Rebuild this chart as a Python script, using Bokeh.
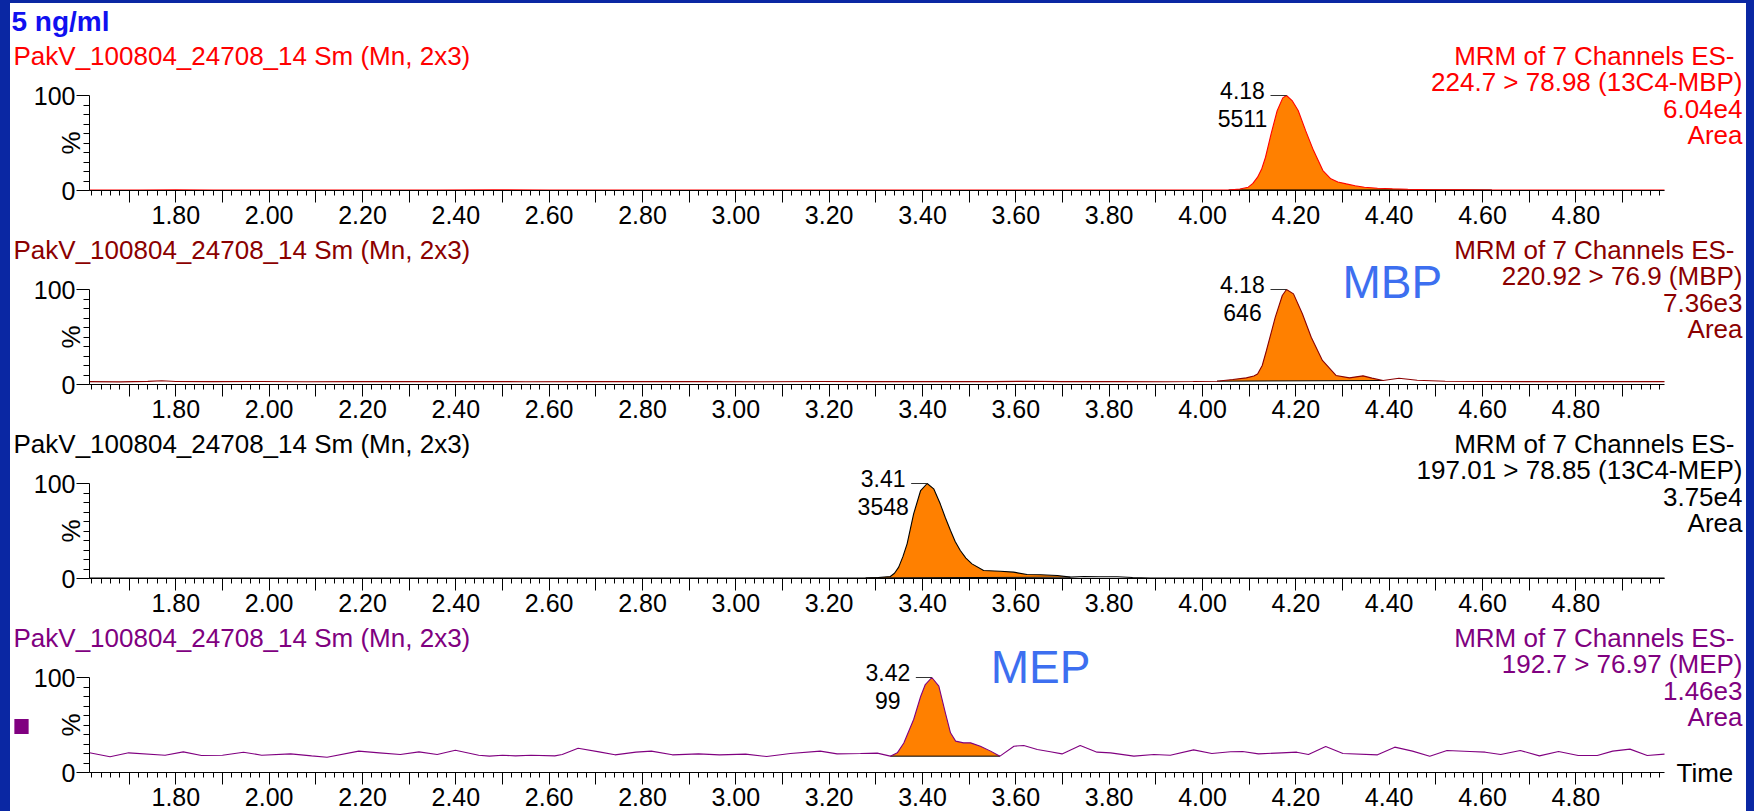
from bokeh.plotting import figure
from bokeh.models import (FixedTicker, CustomJSTickFormatter, Label, Arrow, Range1d)
from bokeh.layouts import column
from bokeh.embed import file_html
from bokeh.resources import INLINE

# ---------------- data ----------------
x_start, x_end = 1.615, 4.99
x_major_ticks = [1.7, 1.8, 1.9, 2.0, 2.1, 2.2, 2.3, 2.4, 2.5, 2.6, 2.7, 2.8, 2.9, 3.0, 3.1,
                 3.2, 3.3, 3.4, 3.5, 3.6, 3.7, 3.8, 3.9, 4.0, 4.1, 4.2, 4.3, 4.4, 4.5, 4.6,
                 4.7, 4.8, 4.9]
x_tick_labels = ["", "1.80", "", "2.00", "", "2.20", "", "2.40", "", "2.60", "", "2.80", "",
                 "3.00", "", "3.20", "", "3.40", "", "3.60", "", "3.80", "", "4.00", "",
                 "4.20", "", "4.40", "", "4.60", "", "4.80", ""]
x_minor_ticks = [round(1.62 + 0.02 * i, 2) for i in range(169)]
y_major_ticks = [0, 100]
y_minor_ticks = [10, 20, 30, 40, 50, 60, 70, 80, 90]

title_text = "5 ng/ml"
sample_name = "PakV_100804_24708_14 Sm (Mn, 2x3)"
mrm_title = "MRM of 7 Channels ES-"
transitions = ["224.7 > 78.98 (13C4-MBP)", "220.92 > 76.9 (MBP)",
               "197.01 > 78.85 (13C4-MEP)", "192.7 > 76.97 (MEP)"]
max_intensity = ["6.04e4", "7.36e3", "3.75e4", "1.46e3"]
peak_rt = [4.18, 4.18, 3.41, 3.42]
peak_height = ["5511", "646", "3548", "99"]
peak_windows = [(4.056, 4.62), (4.031, 4.387), (3.278, 3.717), (3.331, 3.566)]
compound_names = [None, "MBP", None, "MEP"]
compound_pos = [None, (4.30, 7.5), None, (3.546, 11)]

# 13C4-MBP trace
time_13c4_mbp = [1.615, 1.66, 1.72, 1.80, 1.88, 1.97, 2.06, 2.15, 2.25, 2.36, 2.48, 2.60, 2.72,
                 2.85, 2.98, 3.10, 3.22, 3.35, 3.48, 3.60, 3.72, 3.84, 3.95, 4.02, 4.056, 4.080,
                 4.098, 4.108, 4.118, 4.127, 4.135, 4.147, 4.160, 4.172, 4.180, 4.192, 4.205,
                 4.221, 4.238, 4.258, 4.275, 4.290, 4.308, 4.327, 4.347, 4.375, 4.407, 4.440,
                 4.473, 4.515, 4.555, 4.62, 4.70, 4.78, 4.86, 4.93, 4.99]
pct_13c4_mbp = [0.6, 0.5, 0.6, 0.7, 0.5, 0.6, 0.5, 0.6, 0.5, 0.6, 0.7, 0.5, 0.6, 0.5, 0.6, 0.5,
                0.6, 0.5, 0.6, 0.5, 0.6, 0.5, 0.6, 0.6, 0.6, 1.5, 3.5, 7.5, 14, 23, 35, 59.6, 84,
                97.5, 100, 94.7, 84.2, 63, 42, 21, 12.3, 9.0, 7.0, 5.0, 3.5, 2.4, 1.8, 1.3, 1.0,
                0.8, 0.7, 0.6, 0.6, 0.5, 0.6, 0.5, 0.5]

# MBP trace
time_mbp = [1.615, 1.68, 1.74, 1.77, 1.80, 1.88, 1.98, 2.08, 2.18, 2.30, 2.42, 2.55, 2.68, 2.80,
            2.92, 3.05, 3.18, 3.30, 3.42, 3.55, 3.62, 3.70, 3.82, 3.92, 3.98, 4.031, 4.065, 4.094,
            4.110, 4.118, 4.128, 4.137, 4.156, 4.171, 4.180, 4.195, 4.214, 4.233, 4.257, 4.286,
            4.315, 4.344, 4.363, 4.387, 4.421, 4.46, 4.52, 4.60, 4.70, 4.80, 4.90, 4.99]
pct_mbp = [3.0, 2.8, 3.3, 3.9, 3.2, 3.0, 3.2, 2.9, 3.1, 3.0, 3.2, 2.9, 3.1, 3.0, 3.2, 2.9, 3.1,
           3.0, 3.2, 3.0, 3.4, 3.0, 3.1, 2.9, 3.1, 3.5, 5.3, 7.0, 9.0, 11, 20, 35.8, 70.9, 93.7,
           100, 95.4, 74.4, 49.8, 25.3, 9.5, 7.0, 9.1, 6.7, 4.2, 6.5, 4.5, 3.4, 3.1, 3.0, 3.2,
           3.0, 3.0]

# 13C4-MEP trace
time_13c4_mep = [1.615, 1.70, 1.80, 1.92, 2.05, 2.18, 2.32, 2.46, 2.60, 2.74, 2.88, 3.02, 3.14,
                 3.22, 3.278, 3.305, 3.331, 3.340, 3.349, 3.358, 3.367, 3.381, 3.396, 3.410,
                 3.424, 3.438, 3.449, 3.460, 3.470, 3.481, 3.493, 3.506, 3.531, 3.567, 3.595,
                 3.624, 3.653, 3.689, 3.717, 3.746, 3.78, 3.817, 3.85, 3.888, 3.95, 4.05, 4.20,
                 4.35, 4.50, 4.65, 4.80, 4.99]
pct_13c4_mep = [0.5, 0.4, 0.5, 0.4, 0.5, 0.4, 0.5, 0.4, 0.5, 0.4, 0.5, 0.4, 0.5, 0.5, 0.6, 1.0,
                2.1, 5.5, 12, 23, 36.5, 68, 92.6, 100, 94.4, 78.6, 64, 50.5, 39, 29.5, 21.5,
                15.4, 8.4, 7.7, 6.7, 4.2, 3.9, 3.2, 1.4, 2.1, 1.9, 1.8, 1.0, 0.5, 0.5, 0.4, 0.5,
                0.4, 0.5, 0.4, 0.5, 0.4]

# MEP trace
time_mep = [1.615, 1.659, 1.699, 1.777, 1.816, 1.855, 1.900, 1.945, 1.984, 2.046, 2.091, 2.124,
            2.192, 2.236, 2.281, 2.321, 2.360, 2.399, 2.449, 2.472, 2.500, 2.528, 2.561, 2.612,
            2.628, 2.662, 2.707, 2.741, 2.786, 2.819, 2.864, 2.920, 2.965, 3.021, 3.066, 3.117,
            3.181, 3.217, 3.267, 3.303, 3.331, 3.346, 3.360, 3.381, 3.396, 3.406, 3.420, 3.435,
            3.449, 3.460, 3.471, 3.488, 3.503, 3.524, 3.546, 3.566, 3.596, 3.617, 3.646, 3.674,
            3.699, 3.738, 3.774, 3.803, 3.853, 3.896, 3.931, 3.981, 4.020, 4.060, 4.086, 4.120,
            4.169, 4.202, 4.227, 4.264, 4.301, 4.375, 4.412, 4.450, 4.487, 4.524, 4.573, 4.606,
            4.639, 4.681, 4.722, 4.763, 4.805, 4.846, 4.879, 4.916, 4.953, 4.990]
pct_mep = [20.7, 16.5, 20.7, 18.2, 21.7, 17.9, 18.2, 21.4, 18.2, 19.6, 17.5, 16.1, 22.5, 20.7,
           18.9, 21.7, 18.9, 23.5, 18.2, 17.2, 18.2, 17.5, 18.2, 17.5, 18.9, 25.6, 21.7, 18.6,
           21.4, 22.5, 18.6, 19.6, 18.6, 19.3, 16.8, 20.0, 22.5, 19.6, 20.0, 20.4, 17.2, 20.7,
           31.0, 55.8, 80.0, 92.6, 100, 90.9, 62.8, 41.8, 33.0, 31.2, 31.2, 27.7, 22.5, 17.2,
           27.7, 28.4, 24.2, 21.8, 19.6, 28.4, 21.4, 20.7, 17.2, 18.9, 18.2, 23.8, 20.0, 21.8,
           22.1, 19.6, 20.7, 21.4, 18.9, 27.4, 20.0, 18.6, 26.7, 22.5, 17.2, 23.2, 22.1, 21.4,
           18.9, 23.2, 17.5, 22.1, 17.9, 17.9, 22.5, 24.6, 17.9, 19.3]

traces = [(time_13c4_mbp, pct_13c4_mbp), (time_mbp, pct_mbp),
          (time_13c4_mep, pct_13c4_mep), (time_mep, pct_mep)]
panel_colors = ["#ff0000", "#8b0000", "#000000", "#800080"]

# ---------------- style / geometry ----------------
FONT = "Liberation Sans"
FILL = "#ff8000"
NAME_BLUE = "#3d6ff0"
FRAME_BLUE = "#0a27a3"
FIG_W = 1736
AXIS_LEFT_PX = 79          # pixel position of the time axis start inside each figure
PX_PER_MIN = 1575 / (x_end - x_start)
PX_PER_PCT = 0.95
# (figure height, pixel row of the 100 % line, pixel row of the 0 % line)
panel_geom = [(231, 92, 187), (194, 55, 150), (194, 55, 150), (189, 55, 150)]


def make_panel(i):
    first = i == 0
    last = i == 3
    color = panel_colors[i]
    t, y = traces[i]
    H, top_px, zero_px = panel_geom[i]
    xr = Range1d(x_start - AXIS_LEFT_PX / PX_PER_MIN,
                 x_start + (FIG_W - AXIS_LEFT_PX) / PX_PER_MIN)
    yr = Range1d(-(H - zero_px) / PX_PER_PCT, 100 + top_px / PX_PER_PCT)
    p = figure(width=FIG_W, height=H, x_range=xr, y_range=yr, output_backend="svg",
               toolbar_location=None, min_border=0, title=None)
    p.outline_line_color = None
    p.grid.visible = False
    p.background_fill_color = "white"
    p.border_fill_color = "white"

    xa = p.xaxis[0]
    xa.fixed_location = 0
    xa.bounds = (x_start, x_end)
    xa.ticker = FixedTicker(ticks=x_major_ticks, minor_ticks=x_minor_ticks)
    xa.formatter = CustomJSTickFormatter(
        args=dict(tvals=x_major_ticks, tlabels=x_tick_labels),
        code="const k = tvals.findIndex(v => Math.abs(v - tick) < 1e-6); return k >= 0 ? tlabels[k] : '';")
    xa.major_tick_out = 12
    xa.major_tick_in = 0
    xa.minor_tick_out = 5
    xa.minor_tick_in = 0
    xa.major_label_standoff = 3
    xa.major_label_text_font = FONT
    xa.major_label_text_font_size = "25px"
    xa.major_label_text_color = "black"
    xa.axis_line_color = "black"

    ya = p.yaxis[0]
    ya.fixed_location = x_start
    ya.bounds = (0, 100)
    ya.ticker = FixedTicker(ticks=y_major_ticks, minor_ticks=y_minor_ticks)
    ya.major_tick_out = 13
    ya.major_tick_in = 0
    ya.minor_tick_out = 6
    ya.minor_tick_in = 0
    ya.major_label_standoff = 1
    ya.major_label_text_font = FONT
    ya.major_label_text_font_size = "25px"
    ya.major_label_text_color = "black"
    ya.axis_line_color = "black"

    # integrated peak
    w0, w1 = peak_windows[i]
    px = [a for a in t if w0 <= a <= w1]
    py = [b for a, b in zip(t, y) if w0 <= a <= w1]
    p.patch(px, py, fill_color=FILL, line_color=None)
    p.segment(x0=[px[0]], y0=[py[0]], x1=[px[-1]], y1=[py[-1]], line_color="black", line_width=1)
    p.line(t, y, line_color=color, line_width=1.1)

    # peak marker and labels
    rt = peak_rt[i]
    p.add_layout(Arrow(end=None, x_start=rt - 16 / PX_PER_MIN, y_start=100, x_end=rt, y_end=100,
                       line_color="#333333", line_width=1))
    p.add_layout(Label(x=rt, y=100, x_offset=-44, y_offset=5, text=f"{rt:.2f}",
                       text_align="center", text_baseline="alphabetic",
                       text_font=FONT, text_font_size="23px", text_color="black"))
    p.add_layout(Label(x=rt, y=100, x_offset=-44, y_offset=-23, text=peak_height[i],
                       text_align="center", text_baseline="alphabetic",
                       text_font=FONT, text_font_size="23px", text_color="black"))

    # "%" axis label
    p.add_layout(Label(x=x_start, y=50, x_offset=-19, angle=90, angle_units="deg", text="%",
                       text_align="center", text_baseline="middle",
                       text_font=FONT, text_font_size="26px", text_color="black"))

    # header texts
    p.add_layout(Label(x=x_start, y=100, x_offset=-76, y_offset=40, text=sample_name,
                       text_align="left", text_baseline="middle",
                       text_font=FONT, text_font_size="26px", text_color=color))
    right_lines = [mrm_title, transitions[i], max_intensity[i], "Area"]
    for k, txt in enumerate(right_lines):
        p.add_layout(Label(x=x_end, y=100, x_offset=70 if k == 0 else 78,
                           y_offset=40 - 26.6 * k, text=txt,
                           text_align="right", text_baseline="middle",
                           text_font=FONT, text_font_size="26px", text_color=color))

    if first:
        p.add_layout(Label(x=x_start, y=100, x_offset=-78, y_offset=74, text=title_text,
                           text_align="left", text_baseline="middle",
                           text_font=FONT, text_font_size="28px", text_font_style="bold",
                           text_color="#1010f0"))
    if compound_names[i] is not None:
        cx, cdy = compound_pos[i]
        p.add_layout(Label(x=cx, y=100, y_offset=cdy, text=compound_names[i], text_align="left",
                           text_baseline="middle", text_font=FONT, text_font_size="46px",
                           text_color=NAME_BLUE))
    if last:
        p.add_layout(Label(x=x_end, y=0, x_offset=12, text="Time", text_align="left",
                           text_baseline="middle", text_font=FONT, text_font_size="26px",
                           text_color="black"))
        p.add_layout(Label(x=x_start, y=48.4, x_offset=-68, text=" ", text_font_size="1px",
                           text_align="center", text_baseline="middle", padding=7,
                           background_fill_color="#800080", text_color="#800080"))
    return p


panels = [make_panel(i) for i in range(4)]
inner = column(*panels, spacing=0, styles={"background-color": "white"})
layout = column(inner, spacing=0,
                styles={"background-color": FRAME_BLUE, "padding": "3px 8px 0px 10px"})

open("out.html", "w").write(file_html(layout, INLINE))
